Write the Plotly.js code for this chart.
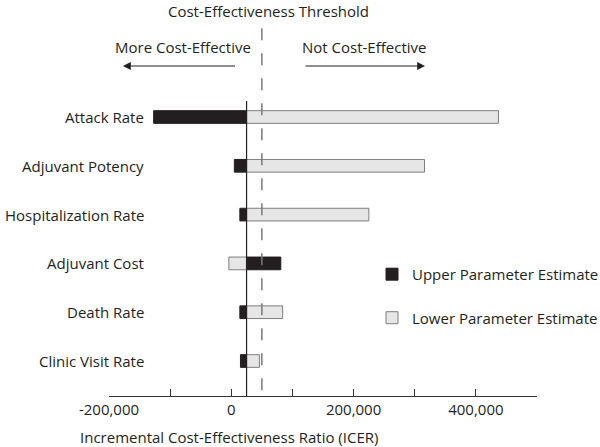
<!DOCTYPE html>
<html>
<head>
<meta charset="utf-8">
<script src="https://cdn.plot.ly/plotly-3.0.1.min.js"></script>
<style>html,body{margin:0;padding:0;background:#fff;}#chart{width:600px;height:447px;}</style>
</head>
<body>
<div id="chart"></div>
<script>
// Data
const categories = ['Attack Rate', 'Adjuvant Potency', 'Hospitalization Rate', 'Adjuvant Cost', 'Death Rate', 'Clinic Visit Rate'];
const baseICER = 25000;
const thresholdICER = 50000;
const upperEstimate = [-127000, 5000, 14000, 81000, 14000, 15000];
const lowerEstimate = [437000, 316000, 225000, -4000, 84000, 46000];
const xTickVals = [-200000, -100000, 0, 100000, 200000, 300000, 400000, 500000];
const xTickText = ['-200,000', '', '0', '', '200,000', '', '400,000', ''];

const FONT = '"Open Sans", Lato, sans-serif';
const FS = 15;
const TXT = '#231f20';

const baseArr = categories.map(() => baseICER);
const traces = [
  {
    type: 'bar', orientation: 'h', name: 'Upper Parameter Estimate',
    y: categories, base: baseArr, x: upperEstimate.map(v => v - baseICER),
    width: 0.26, marker: {color: '#231f20', line: {color: '#231f20', width: 1}},
    legendgroup: 'u', hoverinfo: 'skip'
  },
  {
    type: 'bar', orientation: 'h', name: 'Lower Parameter Estimate',
    y: categories, base: baseArr, x: lowerEstimate.map(v => v - baseICER),
    width: 0.26, marker: {color: '#e6e6e6', line: {color: '#7f7f7f', width: 1}},
    legendgroup: 'l', hoverinfo: 'skip'
  }
];

const annotations = categories.map(c => ({
  xref: 'paper', yref: 'y', x: 0.0864, y: c, xanchor: 'right', yanchor: 'middle',
  text: c, showarrow: false, font: {family: FONT, size: FS, color: TXT}
}));
annotations.push(
  {xref: 'paper', yref: 'paper', x: 0.3715, y: 1.305, text: 'Cost-Effectiveness Threshold', showarrow: false,
   xanchor: 'center', yanchor: 'middle', font: {family: FONT, size: FS, color: TXT}},
  {xref: 'paper', yref: 'paper', x: 0.172, y: 1.183, text: 'More Cost-Effective', showarrow: false,
   xanchor: 'center', yanchor: 'middle', font: {family: FONT, size: FS, color: TXT}},
  {xref: 'paper', yref: 'paper', x: 0.5958, y: 1.183, text: 'Not Cost-Effective', showarrow: false,
   xanchor: 'center', yanchor: 'middle', font: {family: FONT, size: FS, color: TXT}},
  {xref: 'paper', yref: 'paper', x: 0.0327, y: 1.1186, text: '', showarrow: true, ax: 113.5, ay: 0,
   arrowhead: 2, arrowsize: 1.3, arrowwidth: 1.2, arrowcolor: TXT},
  {xref: 'paper', yref: 'paper', x: 0.7383, y: 1.1186, text: '', showarrow: true, ax: -121, ay: 0,
   arrowhead: 2, arrowsize: 1.3, arrowwidth: 1.2, arrowcolor: TXT},
  {xref: 'paper', yref: 'paper', x: 0.2804, y: -0.139, text: 'Incremental Cost-Effectiveness Ratio (ICER)', showarrow: false,
   xanchor: 'center', yanchor: 'middle', font: {family: FONT, size: FS, color: TXT}}
);

const layout = {
  width: 600, height: 447,
  margin: {l: 109, r: 63, t: 101, b: 51, pad: 0, autoexpand: false},
  paper_bgcolor: '#fff', plot_bgcolor: '#fff',
  font: {family: FONT, size: FS, color: TXT},
  barmode: 'overlay',
  showlegend: true,
  legend: {x: 0.6145, y: 0.468, xanchor: 'left', yanchor: 'top', tracegroupgap: 21,
           traceorder: 'grouped', font: {family: FONT, size: FS, color: TXT}, bgcolor: 'rgba(0,0,0,0)'},
  xaxis: {
    range: [-200000, 500000], tickmode: 'array', tickvals: xTickVals, ticktext: xTickText,
    ticks: 'inside', ticklen: 7, tickwidth: 1, tickcolor: '#333',
    showline: true, linecolor: '#333', linewidth: 1, showgrid: false, zeroline: false,
    tickfont: {family: FONT, size: FS, color: TXT}, fixedrange: true, automargin: false
  },
  yaxis: {
    type: 'category', categoryorder: 'array', categoryarray: categories.slice().reverse(),
    range: [-0.717, 5.328], showticklabels: false, showgrid: false, zeroline: false, showline: false,
    ticks: '', fixedrange: true, automargin: false
  },
  shapes: [
    {type: 'line', layer: 'above', xref: 'x', yref: 'paper', x0: baseICER, x1: baseICER, y0: 0, y1: 1,
     line: {color: '#231f20', width: 1.2}},
    {type: 'line', layer: 'above', xref: 'x', yref: 'paper', x0: thresholdICER, x1: thresholdICER, y0: 1.247, y1: 0,
     line: {color: '#7a7a7a', width: 1.5, dash: '12px,13px'}}
  ],
  annotations: annotations
};

Plotly.newPlot('chart', traces, layout, {displayModeBar: false, staticPlot: true});
</script>
</body>
</html>
